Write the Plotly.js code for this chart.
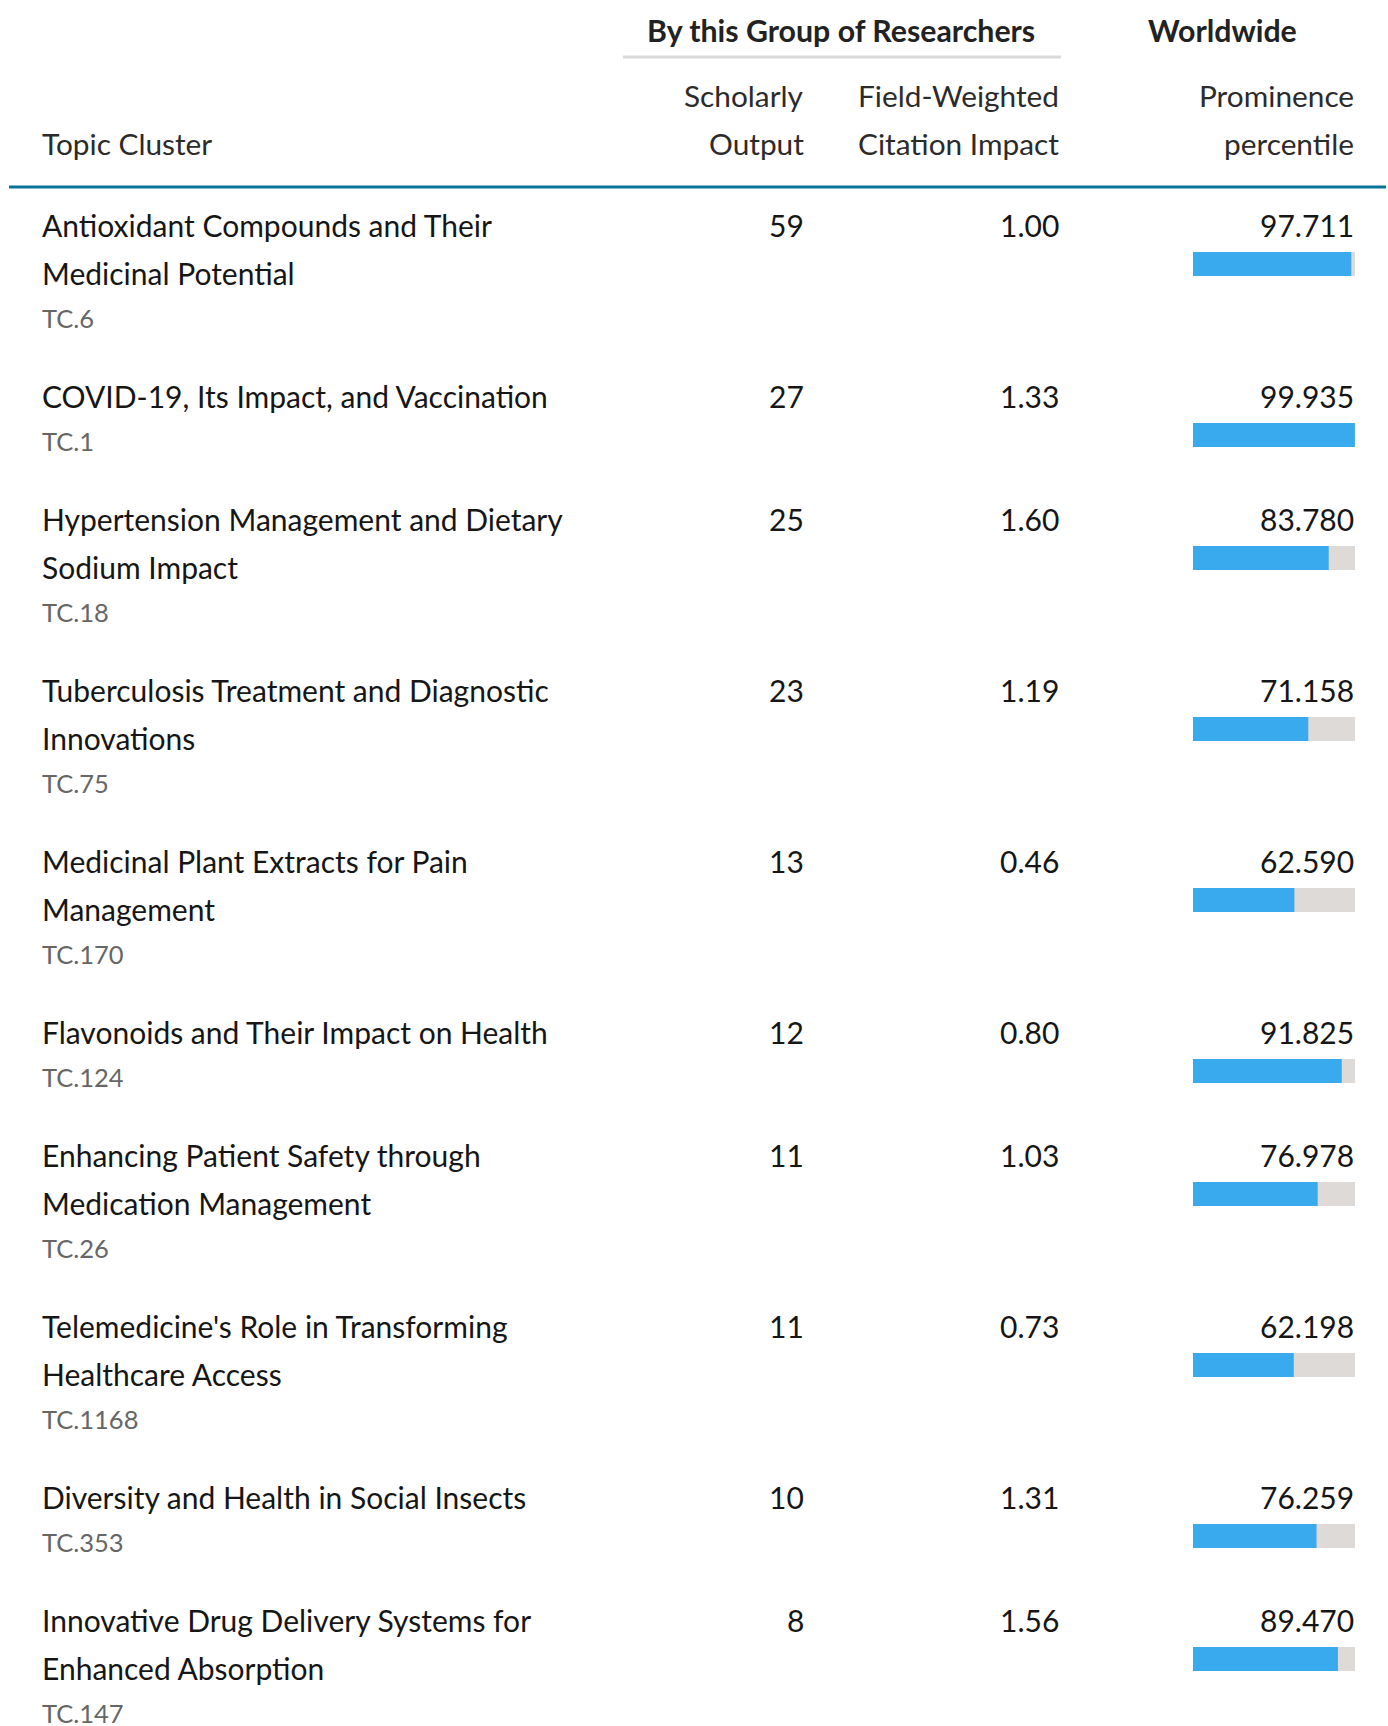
<!DOCTYPE html>
<html>
<head>
<meta charset="utf-8">
<script src="https://cdn.plot.ly/plotly-3.0.1.min.js"></script>
<style>
  html, body { margin: 0; padding: 0; background: #ffffff; }
  #chart { width: 1388px; height: 1726px; }
</style>
</head>
<body>
<div id="chart"></div>
<script>
// ---------- DATA ----------
const topics = [
  "Antioxidant Compounds and Their Medicinal Potential",
  "COVID-19, Its Impact, and Vaccination",
  "Hypertension Management and Dietary Sodium Impact",
  "Tuberculosis Treatment and Diagnostic Innovations",
  "Medicinal Plant Extracts for Pain Management",
  "Flavonoids and Their Impact on Health",
  "Enhancing Patient Safety through Medication Management",
  "Telemedicine's Role in Transforming Healthcare Access",
  "Diversity and Health in Social Insects",
  "Innovative Drug Delivery Systems for Enhanced Absorption"
];
const topicCodes = ["TC.6", "TC.1", "TC.18", "TC.75", "TC.170", "TC.124", "TC.26", "TC.1168", "TC.353", "TC.147"];
const scholarlyOutput = [59, 27, 25, 23, 13, 12, 11, 11, 10, 8];
const fieldWeightedCitationImpact = [1.00, 1.33, 1.60, 1.19, 0.46, 0.80, 1.03, 0.73, 1.31, 1.56];
const prominencePercentile = [97.711, 99.935, 83.780, 71.158, 62.590, 91.825, 76.978, 62.198, 76.259, 89.470];

const groupHeader = "By this Group of Researchers";
const worldHeader = "Worldwide";
const colTopic = "Topic Cluster";
const colOutput = ["Scholarly", "Output"];
const colFwci = ["Field-Weighted", "Citation Impact"];
const colProm = ["Prominence", "percentile"];

// ---------- LAYOUT CONSTANTS ----------
const W = 1388, H = 1726;
const FONT = "Lato, 'Open Sans', sans-serif";
const textColor = "#161616";
const headColor = "#2b2b2b";
const codeColor = "#666666";
const blueBar = "#3aaaee";
const greyBar = "#dddad8";

const xTopic = 40, xOutputR = 806, xFwciR = 1061, xPromR = 1356;
const barL = 1193, barR = 1355;
const firstLineY = 225, lineH = 48, codeOff = 45, rowGap = 78, barOff = 39, barH = 24;
const mainSize = 30, codeSize = 25.5, headSize = 29.8, boldSize = 30.3;

function wrap(text, maxChars) {
  const words = text.split(" ");
  const lines = [];
  let cur = "";
  words.forEach(w => {
    const t = cur ? cur + " " + w : w;
    if (t.length > maxChars && cur) { lines.push(cur); cur = w; }
    else cur = t;
  });
  if (cur) lines.push(cur);
  return lines;
}

const px = x => x / W;
const annotations = [];
function addText(text, x, y, anchor, size, color, bold) {
  annotations.push({
    text: bold ? "<b>" + text + "</b>" : text,
    x: px(x), xref: "paper", y: y, yref: "y",
    xanchor: anchor, yanchor: "middle", showarrow: false,
    font: { family: FONT, size: size, color: color }
  });
}

// headers
addText(groupHeader, 841, 30, "center", boldSize, "#222222", true);
addText(worldHeader, 1222, 30, "center", boldSize, "#222222", true);
addText(colOutput[0], xOutputR, 95.5, "right", headSize, headColor);
addText(colOutput[1], xOutputR, 143.5, "right", headSize, headColor);
addText(colFwci[0], xFwciR, 95.5, "right", headSize, headColor);
addText(colFwci[1], xFwciR, 143.5, "right", headSize, headColor);
addText(colProm[0], xPromR, 95.5, "right", headSize, headColor);
addText(colProm[1], xPromR, 143.5, "right", headSize, headColor);
addText(colTopic, xTopic, 143.5, "left", headSize, headColor);

// rows
const barY = [];
let y = firstLineY;
topics.forEach((t, i) => {
  const lines = wrap(t, 40);
  lines.forEach((ln, k) => addText(ln, xTopic, y + k * lineH, "left", mainSize, textColor));
  const codeY = y + (lines.length - 1) * lineH + codeOff;
  addText(topicCodes[i], xTopic, codeY, "left", codeSize, codeColor);
  addText(String(scholarlyOutput[i]), xOutputR, y, "right", mainSize, textColor);
  addText(fieldWeightedCitationImpact[i].toFixed(2), xFwciR, y, "right", mainSize, textColor);
  addText(prominencePercentile[i].toFixed(3), xPromR, y, "right", mainSize, textColor);
  barY.push(y + barOff);
  y = codeY + rowGap;
});

const traces = [
  {
    type: "bar", orientation: "h",
    x: prominencePercentile.map(() => 100), y: barY, width: barH,
    marker: { color: greyBar, line: { width: 0 } },
    hoverinfo: "skip", showlegend: false
  },
  {
    type: "bar", orientation: "h",
    x: prominencePercentile, y: barY, width: barH,
    marker: { color: blueBar, line: { width: 0 } },
    hoverinfo: "skip", showlegend: false
  }
];

const layout = {
  width: W, height: H,
  margin: { l: 0, r: 0, t: 0, b: 0, pad: 0 },
  paper_bgcolor: "#ffffff", plot_bgcolor: "rgba(0,0,0,0)",
  barmode: "overlay",
  showlegend: false,
  xaxis: { domain: [px(barL), px(barR)], range: [0, 100], visible: false, fixedrange: true },
  yaxis: { domain: [0, 1], range: [H, 0], visible: false, fixedrange: true },
  annotations: annotations,
  shapes: [
    { type: "line", xref: "paper", yref: "y", x0: px(623), x1: px(1061), y0: 57, y1: 57,
      line: { color: "#d9d9d9", width: 3 } },
    { type: "line", xref: "paper", yref: "y", x0: px(9), x1: px(1386), y0: 187, y1: 187,
      line: { color: "#0a7399", width: 3 } }
  ]
};

Plotly.newPlot("chart", traces, layout, { staticPlot: true, displayModeBar: false });
</script>
</body>
</html>
